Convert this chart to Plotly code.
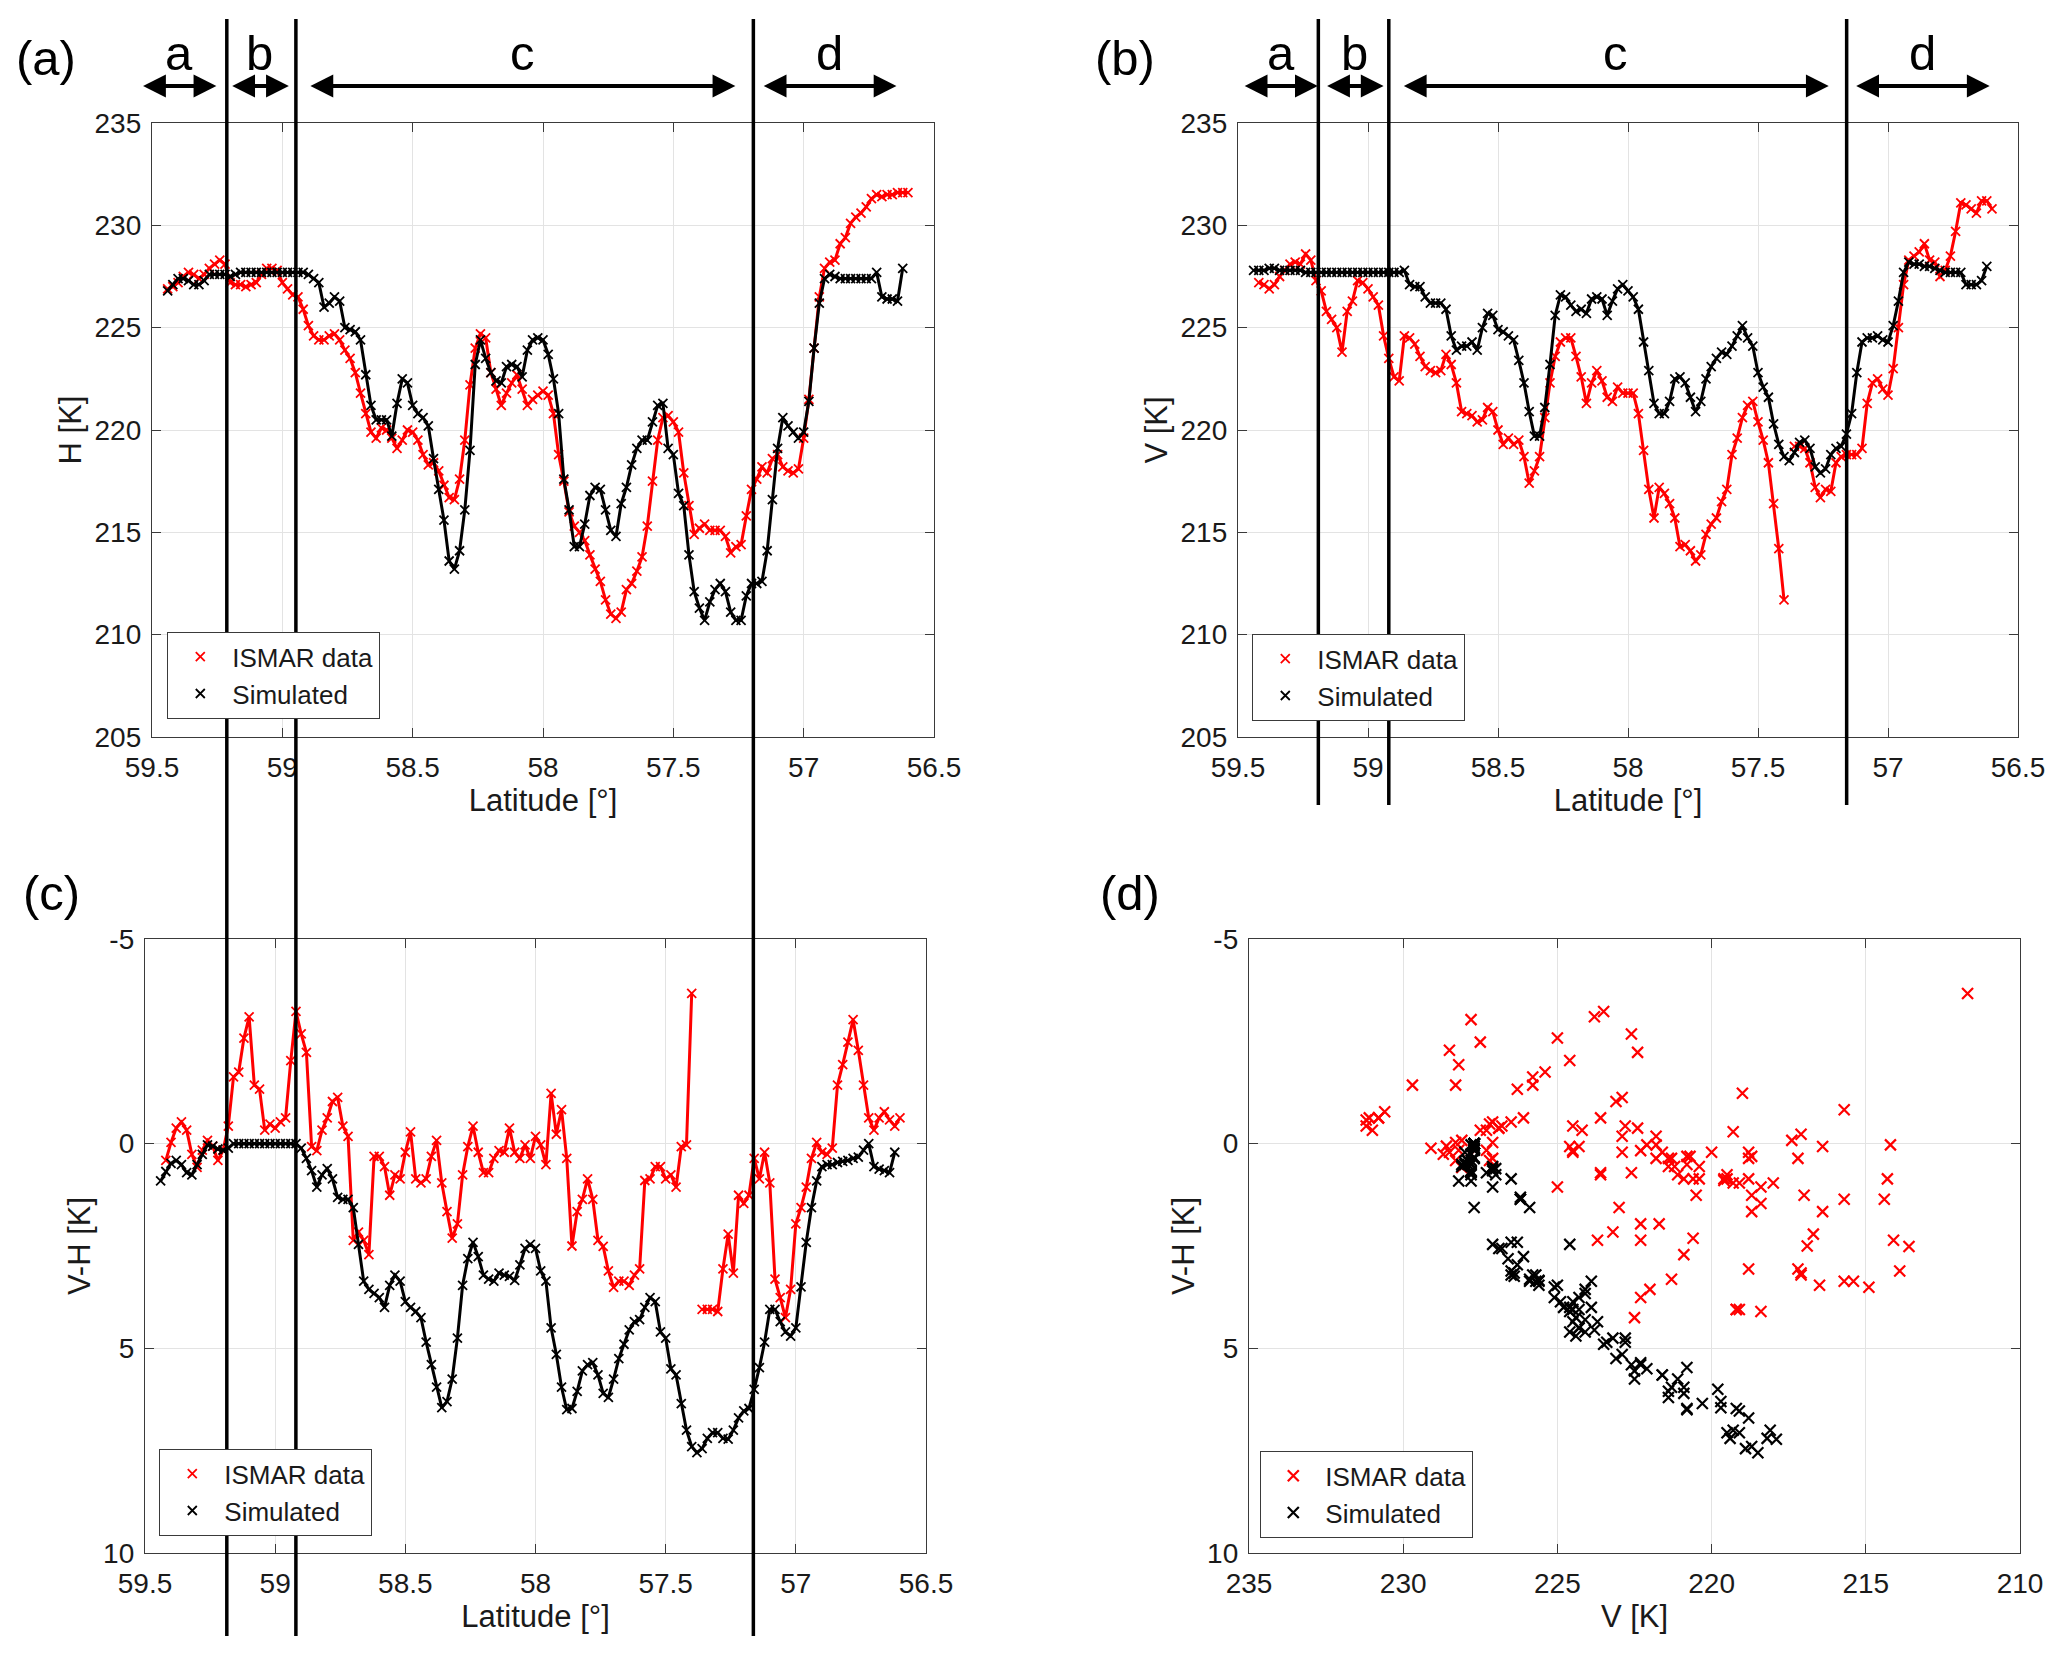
import plotly.graph_objects as go


# --------------------------------------------------
# Data
# --------------------------------------------------
LAT = [
    59.44, 59.42, 59.40, 59.38, 59.36, 59.34, 59.32, 59.30, 59.28, 59.26,
    59.24, 59.22, 59.20, 59.18, 59.16, 59.14, 59.12, 59.10, 59.08, 59.06,
    59.04, 59.02, 59.00, 58.98, 58.96, 58.94, 58.92, 58.90, 58.88, 58.86,
    58.84, 58.82, 58.80, 58.78, 58.76, 58.74, 58.72, 58.70, 58.68, 58.66,
    58.64, 58.62, 58.60, 58.58, 58.56, 58.54, 58.52, 58.50, 58.48, 58.46,
    58.44, 58.42, 58.40, 58.38, 58.36, 58.34, 58.32, 58.30, 58.28, 58.26,
    58.24, 58.22, 58.20, 58.18, 58.16, 58.14, 58.12, 58.10, 58.08, 58.06,
    58.04, 58.02, 58.00, 57.98, 57.96, 57.94, 57.92, 57.90, 57.88, 57.86,
    57.84, 57.82, 57.80, 57.78, 57.76, 57.74, 57.72, 57.70, 57.68, 57.66,
    57.64, 57.62, 57.60, 57.58, 57.56, 57.54, 57.52, 57.50, 57.48, 57.46,
    57.44, 57.42, 57.40, 57.38, 57.36, 57.34, 57.32, 57.30, 57.28, 57.26,
    57.24, 57.22, 57.20, 57.18, 57.16, 57.14, 57.12, 57.10, 57.08, 57.06,
    57.04, 57.02, 57.00, 56.98, 56.96, 56.94, 56.92, 56.90, 56.88, 56.86,
    56.84, 56.82, 56.80, 56.78, 56.76, 56.74, 56.72, 56.70, 56.68, 56.66,
    56.64, 56.62, 56.60,
]

H_ISMAR = [
    226.9, 227.0, 227.2, 227.5, 227.7, 227.6, 227.4, 227.6, 227.9, 228.1,
    228.3, 228.1, 227.2, 227.1, 227.1, 227.0, 227.1, 227.2, 227.6, 227.9,
    227.9, 227.8, 227.2, 226.9, 226.6, 226.5, 225.9, 225.1, 224.6, 224.4,
    224.4, 224.6, 224.7, 224.4, 223.9, 223.5, 222.8, 221.8, 220.8, 219.9,
    219.6, 220.1, 220.0, 219.6, 219.1, 219.5, 220.0, 219.9, 219.5, 218.8,
    218.3, 218.4, 218.0, 217.3, 216.7, 216.6, 217.6, 219.5, 222.2, 224.0,
    224.7, 224.5, 222.8, 222.0, 221.2, 221.8, 222.3, 222.7, 222.0, 221.2,
    221.5, 221.7, 221.9, 221.7, 220.8, 218.8, 217.5, 216.0, 215.3, 215.0,
    214.6, 213.9, 213.2, 212.6, 211.7, 211.0, 210.8, 211.1, 212.2, 212.5,
    213.1, 213.8, 215.3, 217.5, 219.5, 220.6, 220.7, 220.4, 219.9, 217.9,
    216.3, 214.9, 215.2, 215.4, 215.1, 215.1, 215.1, 214.8, 214.0, 214.3,
    214.4, 215.8, 217.1, 217.6, 218.2, 217.9, 218.6, 218.8, 218.2, 218.0,
    217.9, 218.1, 219.6, 221.5, 224.0, 226.5, 227.9, 228.2, 228.3, 229.1,
    229.4, 230.1, 230.4, 230.6, 230.9, 231.3, 231.5, 231.4, 231.5, 231.5,
    231.6, 231.6, 231.6,
]

H_SIM = [
    226.8, 227.1, 227.4, 227.4, 227.3, 227.1, 227.1, 227.3, 227.6, 227.6,
    227.6, 227.6, 227.5, 227.6, 227.7, 227.7, 227.7, 227.7, 227.7, 227.7,
    227.7, 227.7, 227.7, 227.7, 227.7, 227.7, 227.7, 227.6, 227.4, 227.2,
    226.0, 226.2, 226.5, 226.3, 225.0, 224.9, 224.8, 224.4, 222.7, 221.2,
    220.5, 220.5, 220.5, 219.7, 221.3, 222.5, 222.3, 221.2, 220.8, 220.6,
    220.2, 218.6, 217.1, 215.6, 213.6, 213.2, 214.1, 216.1, 219.0, 223.2,
    224.4, 223.5, 222.8, 222.4, 222.3, 223.1, 223.2, 223.1, 222.6, 223.9,
    224.4, 224.5, 224.4, 223.7, 222.5, 220.8, 217.6, 216.1, 214.3, 214.3,
    215.4, 216.8, 217.2, 217.1, 216.1, 215.1, 214.8, 216.4, 217.2, 218.3,
    219.1, 219.5, 219.5, 220.4, 221.2, 221.3, 219.1, 218.8, 216.9, 216.3,
    213.9, 212.1, 211.3, 210.7, 211.6, 212.2, 212.5, 212.1, 211.1, 210.7,
    210.7, 211.9, 212.5, 212.5, 212.6, 214.1, 216.6, 219.1, 220.6, 220.2,
    219.9, 219.6, 219.9, 221.4, 224.0, 226.2, 227.4, 227.6, 227.5, 227.4,
    227.4, 227.4, 227.4, 227.4, 227.4, 227.4, 227.7, 226.5, 226.4, 226.4,
    226.3, 227.9, None,
]

V_ISMAR = [
    None, 227.2, 227.1, 226.9, 227.1, 227.5, 227.8, 228.1, 228.2, 228.1,
    228.6, 228.3, 227.3, 226.8, 225.8, 225.4, 225.0, 223.8, 225.8, 226.3,
    227.3, 227.2, 226.9, 226.5, 226.1, 224.6, 223.5, 222.6, 222.4, 224.6,
    224.5, 224.2, 223.6, 223.1, 222.9, 222.8, 222.9, 223.7, 223.2, 222.3,
    220.9, 220.8, 220.7, 220.4, 220.5, 221.1, 220.9, 220.0, 219.3, 219.6,
    219.3, 219.5, 218.7, 217.4, 218.0, 218.7, 220.6, 222.3, 223.6, 224.3,
    224.5, 224.5, 223.6, 222.6, 221.3, 222.3, 222.9, 222.4, 221.6, 221.4,
    222.1, 221.8, 221.8, 221.8, 220.8, 219.0, 217.1, 215.7, 217.2, 216.9,
    216.4, 215.7, 214.3, 214.4, 214.1, 213.6, 213.9, 214.9, 215.4, 215.7,
    216.5, 217.1, 218.8, 219.6, 220.6, 221.2, 221.4, 220.4, 219.5, 218.4,
    216.4, 214.2, 211.7, None, 219.2, 219.2, 219.1, 218.4, 217.2, 216.7,
    217.1, 217.0, 218.4, 218.7, 218.8, 218.8, 218.8, 219.1, 221.3, 222.3,
    222.5, 222.0, 221.7, 223.0, 225.0, 227.1, 228.3, 228.5, 228.7, 229.1,
    228.3, 228.2, 227.5, 227.8, 228.5, 229.7, 231.1, 231.0, 230.8, 230.6,
    231.2, 231.2, 230.8,
]

V_SIM = [
    227.8, 227.8, 227.8, 227.9, 227.9, 227.8, 227.8, 227.8, 227.8, 227.8,
    227.7, 227.7, 227.7, 227.7, 227.7, 227.7, 227.7, 227.7, 227.7, 227.7,
    227.7, 227.7, 227.7, 227.7, 227.7, 227.7, 227.7, 227.7, 227.7, 227.8,
    227.1, 227.0, 227.0, 226.5, 226.2, 226.2, 226.2, 225.9, 224.6, 223.9,
    224.1, 224.1, 224.3, 223.9, 225.0, 225.7, 225.6, 224.9, 224.8, 224.6,
    224.4, 223.4, 222.3, 220.9, 219.7, 219.7, 221.1, 223.2, 225.6, 226.6,
    226.5, 226.1, 225.8, 225.9, 225.7, 226.4, 226.5, 226.4, 225.6, 226.3,
    226.9, 227.1, 226.8, 226.5, 225.9, 224.3, 222.9, 221.3, 220.8, 220.8,
    221.4, 222.5, 222.6, 222.3, 221.6, 220.9, 221.4, 222.5, 223.1, 223.5,
    223.8, 223.7, 224.1, 224.6, 225.1, 224.5, 224.1, 222.8, 222.1, 221.6,
    220.3, 219.3, 218.7, 218.5, 218.9, 219.4, 219.5, 219.1, 218.2, 217.9,
    218.1, 218.8, 219.1, 219.2, 219.8, 220.8, 222.8, 224.3, 224.5, 224.5,
    224.6, 224.4, 224.3, 225.1, 226.3, 227.7, 228.2, 228.1, 228.1, 228.0,
    228.0, 227.9, 227.8, 227.7, 227.7, 227.7, 227.7, 227.1, 227.1, 227.1,
    227.3, 228.0, None,
]

VH_ISMAR = [
    None, 0.41, -0.03, -0.38, -0.53, -0.33, 0.26, 0.58, 0.16, -0.08,
    0.06, 0.41, 0.16, -0.43, -1.63, -1.75, -2.58, -3.10, -1.43, -1.33,
    -0.33, -0.48, -0.38, -0.53, -0.63, -2.03, -3.23, -2.68, -2.23, 0.07,
    0.17, -0.33, -0.63, -1.03, -1.13, -0.43, -0.18, 2.36, 2.16, 2.36,
    2.71, 0.31, 0.31, 0.56, 1.26, 0.76, 0.86, 0.21, -0.29, 0.86,
    0.96, 0.86, 0.31, -0.08, 0.96, 1.66, 2.31, 1.96, 0.76, 0.07,
    -0.43, 0.21, 0.71, 0.71, 0.36, 0.17, 0.21, -0.38, 0.21, 0.36,
    0.03, 0.36, -0.18, 0.03, 0.51, -1.23, -0.23, -0.83, 0.36, 2.50,
    1.66, 1.36, 0.86, 1.36, 2.36, 2.51, 3.11, 3.51, 3.36, 3.36,
    3.46, 3.21, 3.06, 0.90, 0.86, 0.56, 0.56, 0.86, 0.76, 1.06,
    0.07, 0.03, -3.67, None, 4.05, 4.05, 4.05, 4.10, 3.06, 2.21,
    3.16, 1.26, 1.46, 1.26, 0.36, 0.86, 0.21, 0.96, 3.31, 3.76,
    4.25, 3.56, 1.96, 1.56, 1.06, 0.36, -0.03, 0.21, 0.26, 0.11,
    -1.43, -1.93, -2.48, -3.03, -2.28, -1.43, -0.63, -0.33, -0.63, -0.78,
    -0.58, -0.43, -0.63,
]

VH_SIM = [
    0.91, 0.68, 0.48, 0.41, 0.51, 0.71, 0.76, 0.51, 0.26, 0.03,
    0.06, 0.13, 0.16, 0.11, 0.00, 0.00, 0.00, 0.00, 0.00, 0.00,
    0.00, 0.00, 0.00, 0.00, 0.00, 0.00, 0.00, 0.11, 0.36, 0.66,
    1.06, 0.76, 0.61, 0.86, 1.31, 1.36, 1.36, 1.56, 2.46, 3.36,
    3.56, 3.66, 3.76, 4.00, 3.46, 3.21, 3.36, 3.86, 4.00, 4.10,
    4.25, 4.85, 5.40, 5.95, 6.45, 6.30, 5.75, 4.75, 3.46, 2.81,
    2.41, 2.76, 3.21, 3.31, 3.36, 3.16, 3.21, 3.24, 3.34, 2.96,
    2.56, 2.46, 2.56, 3.11, 3.36, 4.50, 5.15, 5.95, 6.50, 6.47,
    6.05, 5.55, 5.40, 5.35, 5.65, 6.10, 6.20, 5.75, 5.25, 4.90,
    4.55, 4.35, 4.30, 4.00, 3.76, 3.86, 4.60, 4.75, 5.50, 5.65,
    6.35, 7.00, 7.40, 7.55, 7.45, 7.20, 7.06, 7.06, 7.20, 7.22,
    7.00, 6.70, 6.53, 6.47, 6.00, 5.47, 4.85, 4.05, 4.05, 4.35,
    4.60, 4.70, 4.50, 3.50, 2.41, 1.56, 0.91, 0.56, 0.51, 0.51,
    0.46, 0.43, 0.41, 0.36, 0.33, 0.16, 0.00, 0.56, 0.62, 0.66,
    0.71, 0.21, None,
]

# region boundaries and arrow spans (latitude) for the left and right columns
BOUNDS_LEFT = [59.213, 58.948, 57.193]
BOUNDS_RIGHT = [59.191, 58.920, 57.159]
REGION_NAMES = ["a", "b", "c", "d"]
ARROW_START_LEFT = [59.540, 59.198, 58.898, 57.159]
ARROW_END_LEFT = [59.253, 58.975, 57.262, 56.644]
ARROW_START_RIGHT = [59.480, 59.163, 58.868, 57.128]
ARROW_END_RIGHT = [59.193, 58.940, 57.228, 56.609]

VH_TICKS = [-5, 0, 5, 10]
VH_TICK_TEXT = ["-5", "0", "5", "10"]

W, H = 2067, 1655
FONT = "Liberation Sans, Arial, Helvetica, sans-serif"
RED = "#ff0000"
BLACK = "#000000"
AX_COLOR = "#3a3a3a"
TXT = "#1a1a1a"


def add_pair(fig, x, y, color, name, xa, ya, legend, with_line=True):
    # line (no legend entry) + x markers (legend entry)
    if with_line:
        fig.add_trace(go.Scatter(
            x=x, y=y, mode="lines", xaxis=xa, yaxis=ya,
            line=dict(color=color, width=3),
            showlegend=False, hoverinfo="skip",
        ))
    fig.add_trace(go.Scatter(
        x=x, y=y, mode="markers", xaxis=xa, yaxis=ya, name=name,
        legend=legend,
        marker=dict(symbol="x-thin", size=9 if with_line else 11,
                    line=dict(color=color, width=1.8 if with_line else 2.2)),
    ))


def plot_ismar_comparison():
    fig = go.Figure()

    # --------------------------------------------------
    # 1) Traces
    # --------------------------------------------------
    panels = [
        ("x", "y", "legend", H_ISMAR, H_SIM),
        ("x2", "y2", "legend2", V_ISMAR, V_SIM),
        ("x3", "y3", "legend3", VH_ISMAR, VH_SIM),
    ]
    for xa, ya, leg, obs, sim in panels:
        add_pair(fig, LAT, obs, RED, "ISMAR data", xa, ya, leg)
        add_pair(fig, LAT, sim, BLACK, "Simulated", xa, ya, leg)

    # (d) V-H against V, markers only
    add_pair(fig, V_ISMAR, VH_ISMAR, RED, "ISMAR data", "x4", "y4", "legend4", with_line=False)
    add_pair(fig, V_SIM, VH_SIM, BLACK, "Simulated", "x4", "y4", "legend4", with_line=False)

    # --------------------------------------------------
    # 2) Axes
    # --------------------------------------------------
    ax = dict(
        showline=True, linecolor=AX_COLOR, linewidth=1.3, mirror="ticks",
        ticks="inside", ticklen=9, tickwidth=1.3, tickcolor=AX_COLOR,
        showgrid=True, gridcolor="#e3e3e3", gridwidth=1, zeroline=False,
        automargin=False,
        tickfont=dict(family=FONT, size=28, color=TXT),
        title_font=dict(family=FONT, size=31, color=TXT),
    )
    lat_ax = dict(ax, range=[59.5, 56.5], dtick=0.5, tick0=56.5,
                  ticklabelstandoff=5, title_standoff=7,
                  title_text="Latitude [°]")
    tb_ax = dict(ax, range=[205, 235], dtick=5, tick0=205,
                 ticklabelstandoff=4, title_standoff=3)
    vh_ax = dict(ax, range=[10, -5], tickvals=VH_TICKS, ticktext=VH_TICK_TEXT,
                 ticklabelstandoff=4, title_standoff=3, title_text="V-H [K]")

    top = [1 - 737 / H, 1 - 123 / H]
    bot = [1 - 1553 / H, 1 - 939 / H]

    fig.update_layout(
        xaxis=dict(lat_ax, domain=[152 / W, 934 / W], anchor="y"),
        yaxis=dict(tb_ax, domain=top, anchor="x", title_text="H [K]"),
        xaxis2=dict(lat_ax, domain=[1238 / W, 2018 / W], anchor="y2"),
        yaxis2=dict(tb_ax, domain=top, anchor="x2", title_text="V [K]"),
        xaxis3=dict(lat_ax, domain=[145 / W, 926 / W], anchor="y3"),
        yaxis3=dict(vh_ax, domain=bot, anchor="x3"),
        xaxis4=dict(ax, domain=[1249 / W, 2020 / W], anchor="y4",
                    range=[235, 210], dtick=5, tick0=210,
                    ticklabelstandoff=5, title_standoff=7, title_text="V [K]"),
        yaxis4=dict(vh_ax, domain=bot, anchor="x4"),
    )

    # --------------------------------------------------
    # 3) Legends
    # --------------------------------------------------
    leg = dict(
        bgcolor="white", bordercolor=AX_COLOR, borderwidth=1.3,
        font=dict(family=FONT, size=26, color=TXT),
        xanchor="left", yanchor="bottom", itemwidth=54, tracegroupgap=0,
    )
    fig.update_layout(
        legend=dict(leg, x=167 / W, y=1 - 719 / H),
        legend2=dict(leg, x=1252 / W, y=1 - 721 / H),
        legend3=dict(leg, x=159 / W, y=1 - 1536 / H),
        legend4=dict(leg, x=1260 / W, y=1 - 1538 / H),
    )

    # --------------------------------------------------
    # 4) Region lines, arrows, labels
    # --------------------------------------------------
    arrow_y = 1 - 86 / H
    letter_y = 1 - 53 / H
    columns = [
        ("x", BOUNDS_LEFT, ARROW_START_LEFT, ARROW_END_LEFT, 1 - 1636 / H),
        ("x2", BOUNDS_RIGHT, ARROW_START_RIGHT, ARROW_END_RIGHT, 1 - 805 / H),
    ]
    for xr, bounds, starts, ends, y_low in columns:
        for b in bounds:
            fig.add_shape(type="line", xref=xr, yref="paper",
                          x0=b, x1=b, y0=y_low, y1=1 - 19 / H,
                          line=dict(color=BLACK, width=3.5), layer="above")
        for name, s, e in zip(REGION_NAMES, starts, ends):
            fig.add_annotation(
                x=e, y=arrow_y, xref=xr, yref="paper",
                ax=s, ay=0, axref=xr, ayref="pixel",
                xanchor="center", yanchor="middle",
                text="", showarrow=True, arrowside="end+start",
                arrowhead=2, arrowsize=1.2, arrowwidth=3.8, arrowcolor=BLACK,
            )
            fig.add_annotation(
                x=(s + e) / 2, y=letter_y, xref=xr, yref="paper",
                xanchor="center", yanchor="middle",
                text=name, showarrow=False,
                font=dict(family=FONT, size=49, color=BLACK),
            )

    for label, px, py in [("(a)", 46, 58), ("(b)", 1125, 58),
                          ("(c)", 51, 893), ("(d)", 1130, 893)]:
        fig.add_annotation(
            x=px / W, y=1 - py / H, xref="paper", yref="paper",
            xanchor="center", yanchor="middle",
            text=label, showarrow=False,
            font=dict(family=FONT, size=49, color=BLACK),
        )

    fig.update_layout(
        width=W, height=H,
        margin=dict(l=0, r=0, t=0, b=0),
        paper_bgcolor="white", plot_bgcolor="white",
        font=dict(family=FONT, color=TXT),
    )

    # --------------------------------------------------
    # 5) Save (body margin removed so the figure sits at the page origin)
    # --------------------------------------------------
    fig.write_html(
        "out.html",
        config={"displayModeBar": False},
        post_script="document.body.style.margin = '0';",
    )
    print("saved out.html")


if __name__ == "__main__":
    plot_ismar_comparison()
